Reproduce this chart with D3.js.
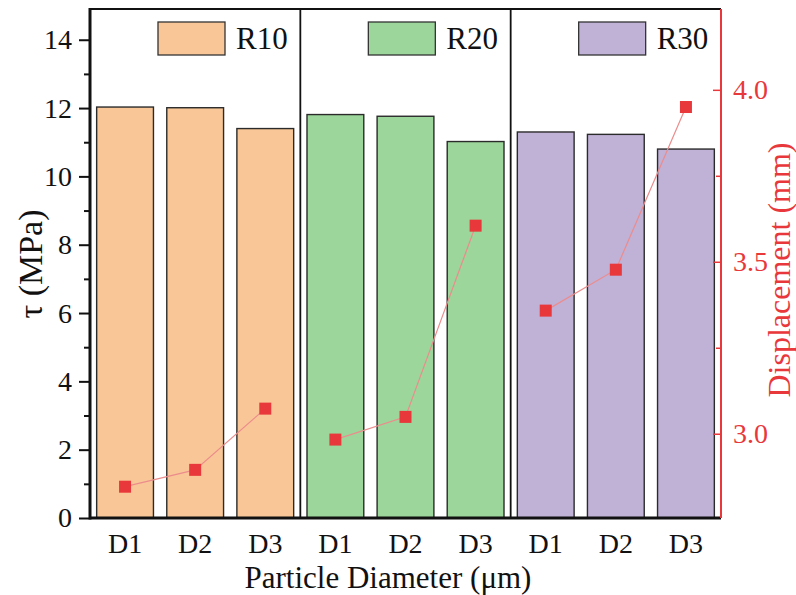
<!DOCTYPE html>
<html>
<head>
<meta charset="utf-8">
<script src="https://cdn.jsdelivr.net/npm/d3@7"></script>
<style>
  body { margin: 0; background: #fff; }
</style>
</head>
<body>
<div id="chart"></div>
<script>
// data
const groups = ["R10", "R20", "R30"];
const diameters = ["D1", "D2", "D3"];
const tauR10 = [12.03, 12.01, 11.4];
const tauR20 = [11.81, 11.76, 11.02];
const tauR30 = [11.3, 11.23, 10.8];
const dispR10 = [2.846, 2.895, 3.073];
const dispR20 = [2.983, 3.049, 3.605];
const dispR30 = [3.358, 3.477, 3.95];
const groupColors = ["#f9c797", "#9cd69b", "#c0b1d7"];
const yTicks = [0, 2, 4, 6, 8, 10, 12, 14];
const y2Ticks = [3.0, 3.5, 4.0];

const w = 796, h = 595;
const pLeft = 90, pRight = 721, pTop = 9, pBottom = 518;
const red = "#e8383b";
const serif = "'Liberation Serif', 'Times New Roman', serif";

const tau = [tauR10, tauR20, tauR30];
const disp = [dispR10, dispR20, dispR30];
const dataset = [];
groups.forEach((g, gi) => diameters.forEach((d, di) => {
  dataset.push({key: g + "-" + d, group: g, gi: gi, dia: d, tau: tau[gi][di], disp: disp[gi][di]});
}));

const svg = d3.select("#chart").append("svg").attr("width", w).attr("height", h);

// scales
const xScale = d3.scaleBand()
  .domain(dataset.map(d => d.key))
  .range([pLeft, pRight])
  .paddingInner(0.19)
  .paddingOuter(0.095);
const yScale = d3.scaleLinear().domain([0, 14.9]).range([pBottom, pTop]);
const y2Scale = d3.scaleLinear().domain([2.755, 4.235]).range([pBottom, pTop]);
const groupWidth = (pRight - pLeft) / 3;

// bars
svg.selectAll("rect.bar")
  .data(dataset)
  .enter()
  .append("rect")
  .attr("class", "bar")
  .attr("x", d => xScale(d.key))
  .attr("y", d => yScale(d.tau))
  .attr("width", xScale.bandwidth())
  .attr("height", d => pBottom - yScale(d.tau))
  .style("fill", d => groupColors[d.gi])
  .style("stroke", "#2b2b2b")
  .style("stroke-width", 1.4);

// group separators
svg.selectAll("line.sep")
  .data([1, 2])
  .enter()
  .append("line")
  .attr("x1", d => pLeft + groupWidth * d)
  .attr("x2", d => pLeft + groupWidth * d)
  .attr("y1", pTop)
  .attr("y2", pBottom)
  .style("stroke", "#111")
  .style("stroke-width", 1.8);

// displacement lines, one per group
const line = d3.line().x(d => xScale(d.key) + xScale.bandwidth() / 2).y(d => y2Scale(d.disp));
groups.forEach(g => {
  svg.append("path")
    .datum(dataset.filter(d => d.group === g))
    .attr("d", line)
    .style("fill", "none")
    .style("stroke", "#ec8c8c")
    .style("stroke-width", 1.2);
});
svg.selectAll("rect.pt")
  .data(dataset)
  .enter()
  .append("rect")
  .attr("class", "pt")
  .attr("x", d => xScale(d.key) + xScale.bandwidth() / 2 - 6)
  .attr("y", d => y2Scale(d.disp) - 6)
  .attr("width", 12)
  .attr("height", 12)
  .style("fill", red);

// left axis (ticks outward)
const yAxis = d3.axisLeft(yScale).tickValues(yTicks).tickSize(11).tickPadding(7).tickFormat(d3.format("d"));
const gy = svg.append("g").attr("transform", "translate(" + pLeft + ",0)").call(yAxis);
gy.select(".domain").remove();
gy.selectAll(".tick line").style("stroke", "#111").style("stroke-width", 2);
gy.selectAll(".tick text").style("font-size", "28px").style("fill", "#111");
const gyMinor = svg.append("g").attr("transform", "translate(" + pLeft + ",0)")
  .call(d3.axisLeft(yScale).tickValues([1, 3, 5, 7, 9, 11, 13]).tickSize(6).tickFormat(""));
gyMinor.select(".domain").remove();
gyMinor.selectAll(".tick line").style("stroke", "#111").style("stroke-width", 2);

// right axis (ticks inward)
const y2Axis = d3.axisRight(y2Scale).tickValues(y2Ticks).tickSize(-8).tickPadding(12).tickFormat(d3.format(".1f"));
const gy2 = svg.append("g").attr("transform", "translate(" + pRight + ",0)").call(y2Axis);
gy2.select(".domain").remove();
gy2.selectAll(".tick line").style("stroke", red).style("stroke-width", 1.5);
gy2.selectAll(".tick text").style("font-size", "28px").style("fill", red);
const gy2Minor = svg.append("g").attr("transform", "translate(" + pRight + ",0)")
  .call(d3.axisRight(y2Scale).tickValues([3.25, 3.75]).tickSize(-5).tickFormat(""));
gy2Minor.select(".domain").remove();
gy2Minor.selectAll(".tick line").style("stroke", red).style("stroke-width", 1.5);

// bottom axis labels
const xAxis = d3.axisBottom(xScale).tickSize(0).tickPadding(15).tickFormat(k => k.split("-")[1]);
const gx = svg.append("g").attr("transform", "translate(0," + pBottom + ")").call(xAxis);
gx.select(".domain").remove();
gx.selectAll(".tick text").style("font-size", "28px").style("fill", "#111");

// frame
svg.append("line").attr("x1", pLeft).attr("x2", pRight).attr("y1", pTop).attr("y2", pTop)
  .style("stroke", "#111").style("stroke-width", 2);
svg.append("line").attr("x1", pLeft).attr("x2", pRight).attr("y1", pBottom).attr("y2", pBottom)
  .style("stroke", "#111").style("stroke-width", 3);
svg.append("line").attr("x1", pLeft).attr("x2", pLeft).attr("y1", pTop - 1).attr("y2", pBottom + 1.5)
  .style("stroke", "#111").style("stroke-width", 3);
svg.append("line").attr("x1", pRight).attr("x2", pRight).attr("y1", pTop).attr("y2", pBottom)
  .style("stroke", red).style("stroke-width", 2);

// legend
const legend = svg.selectAll("g.legend")
  .data(groups)
  .enter()
  .append("g")
  .attr("class", "legend")
  .attr("transform", (d, i) => "translate(" + (pLeft + groupWidth * i + 68) + ",22)");
legend.append("rect")
  .attr("width", 67)
  .attr("height", 33)
  .style("fill", (d, i) => groupColors[i])
  .style("stroke", "#333")
  .style("stroke-width", 1.3);
legend.append("text")
  .attr("x", 78)
  .attr("y", 27)
  .style("font-size", "31px")
  .style("fill", "#111")
  .text(d => d);

// axis titles
svg.append("text")
  .attr("transform", "translate(42,264) rotate(-90)")
  .style("text-anchor", "middle")
  .style("font-size", "34px")
  .style("fill", "#111")
  .text("τ (MPa)");
svg.append("text")
  .attr("transform", "translate(790,270) rotate(-90)")
  .style("text-anchor", "middle")
  .style("font-size", "32px")
  .style("fill", red)
  .text("Displacement (mm)");
svg.append("text")
  .attr("x", 388)
  .attr("y", 588)
  .style("text-anchor", "middle")
  .style("font-size", "31px")
  .style("fill", "#111")
  .text("Particle Diameter (μm)");

svg.selectAll("text").style("font-family", serif);
</script>
</body>
</html>
